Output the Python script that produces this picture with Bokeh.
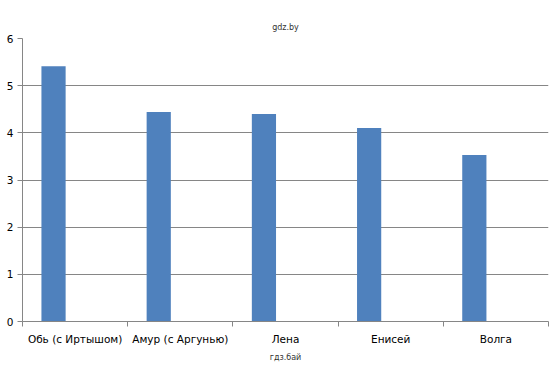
from bokeh.plotting import figure
from bokeh.models import FixedTicker, Title, ColumnDataSource
from bokeh.transform import dodge
from bokeh.embed import file_html
from bokeh.resources import INLINE

categories = ["Обь (с Иртышом)", "Амур (с Аргунью)", "Лена", "Енисей", "Волга"]
values = [5.41, 4.44, 4.40, 4.10, 3.53]
y_ticks = [0, 1, 2, 3, 4, 5, 6]

idx = list(range(len(categories)))
src = ColumnDataSource(dict(x=idx, top=values))

p = figure(width=554, height=375, output_backend="svg", toolbar_location=None,
           x_range=(0, len(categories)), y_range=(0, 6),
           min_border_left=22, min_border_right=6, min_border_top=38, min_border_bottom=54)
p.outline_line_color = None
p.background_fill_color = "white"
p.border_fill_color = "white"

p.vbar(x=dodge("x", 0.295), top="top", bottom=0, width=0.23, source=src,
       fill_color="#4F81BD", line_color=None)

grey = "#868686"
# x axis
p.xaxis.ticker = FixedTicker(ticks=[i + 0.5 for i in idx], minor_ticks=list(range(len(categories) + 1)))
p.xaxis.major_label_overrides = {i + 0.5: c for i, c in zip(idx, categories)}
p.xaxis.major_tick_line_color = None
p.xaxis.minor_tick_line_color = grey
p.xaxis.minor_tick_out = 5
p.xaxis.minor_tick_in = 0
p.xaxis.axis_line_color = grey
p.xaxis.major_label_text_font = "DejaVu Sans"
p.xaxis.major_label_text_font_size = "10.5px"
p.xaxis.major_label_text_color = "#000000"
p.xaxis.major_label_standoff = 5

# y axis
p.yaxis.ticker = FixedTicker(ticks=y_ticks)
p.yaxis.minor_tick_line_color = None
p.yaxis.major_tick_line_color = grey
p.yaxis.major_tick_out = 5
p.yaxis.major_tick_in = 0
p.yaxis.axis_line_color = grey
p.yaxis.major_label_text_font = "DejaVu Sans"
p.yaxis.major_label_text_font_size = "10.5px"
p.yaxis.major_label_text_color = "#000000"
p.yaxis.major_label_standoff = 4

p.xgrid.grid_line_color = None
p.ygrid.ticker = FixedTicker(ticks=y_ticks)
p.ygrid.grid_line_color = grey
p.ygrid.grid_line_width = 1

p.add_layout(Title(text="gdz.by", align="center", text_font="DejaVu Sans", text_font_size="8px",
                   text_font_style="normal", text_color="#333333", standoff=14), "above")
p.add_layout(Title(text="гдз.бай", align="center", text_font="DejaVu Sans", text_font_size="8px",
                   text_font_style="normal", text_color="#333333", standoff=6), "below")

open("out.html", "w").write(file_html(p, INLINE))
